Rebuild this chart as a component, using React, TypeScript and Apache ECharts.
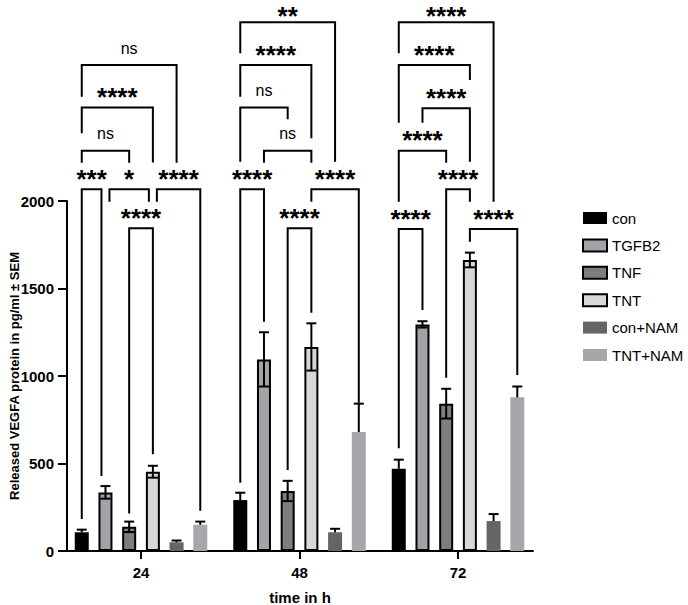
import React, { useEffect, useRef } from "react";
import * as echarts from "echarts";

// ---------- data ----------
const timePoints = ["24", "48", "72"];
const seriesNames = ["con", "TGFB2", "TNF", "TNT", "con+NAM", "TNT+NAM"];

const conMean = [107, 291, 470];
const conSem = [15, 42, 52];
const tgfb2Mean = [335, 1095, 1295];
const tgfb2Sem = [36, 155, 18];
const tnfMean = [138, 343, 842];
const tnfSem = [30, 58, 85];
const tntMean = [453, 1166, 1663];
const tntSem = [34, 135, 42];
const conNamMean = [50, 107, 171];
const conNamSem = [10, 20, 40];
const tntNamMean = [150, 680, 878];
const tntNamSem = [18, 162, 62];

const yTicks = [0, 500, 1000, 1500, 2000];

// significance brackets: [timeIndex, barA, barB, label, level, legA bottom, legB bottom, sideA, sideB]
const brackets: [number, number, number, string, number, number, number, number, number][] = [
  [0, 0, 1, "***", 2067, 183, 429, 0, -1],
  [0, 1, 3, "*", 2067, 1996, 1996, 1, -1],
  [0, 3, 5, "****", 2067, 1996, 230, 1, 0],
  [0, 2, 3, "****", 1844, 215, 553, 0, 0],
  [0, 0, 2, "ns", 2287, 2219, 2219, 0, 0],
  [0, 0, 3, "****", 2535, 2387, 2220, 0, 0],
  [0, 0, 4, "ns", 2777, 2596, 2219, 0, 0],

  [1, 0, 1, "****", 2067, 390, 1310, 0, 0],
  [1, 3, 5, "****", 2067, 1996, 847, 0, 0],
  [1, 2, 3, "****", 1844, 463, 1362, 0, 0],
  [1, 1, 3, "ns", 2287, 2219, 2219, 0, 0],
  [1, 0, 2, "ns", 2535, 2225, 2467, 0, 0],
  [1, 0, 3, "****", 2777, 2596, 2358, 0, 0],
  [1, 0, 4, "**", 3021, 2844, 2225, 0, 0],

  [2, 0, 1, "****", 1840, 587, 1377, 0, 0],
  [2, 3, 5, "****", 1840, 1767, 1006, 0, 0],
  [2, 2, 3, "****", 2067, 990, 1996, 0, 0],
  [2, 0, 2, "****", 2287, 1996, 2219, 0, 0],
  [2, 1, 3, "****", 2530, 2447, 2225, 0, 0],
  [2, 0, 3, "****", 2777, 2447, 2691, 0, 0],
  [2, 0, 4, "****", 3021, 2844, 1996, 0, 0],
];

// ---------- styling ----------
const FONT = "'Liberation Sans', Arial, Helvetica, sans-serif";
const BAR_W = 14;
const BAR_GAP = 0.693;
const SPACING = BAR_W * (1 + BAR_GAP);
const LEG_NUDGE = 4;
const STAR_SIZE = 26;

const means = [conMean, tgfb2Mean, tnfMean, tntMean, conNamMean, tntNamMean];
const sems = [conSem, tgfb2Sem, tnfSem, tntSem, conNamSem, tntNamSem];
const fills = ["#000000", "#a2a2a7", "#7e7e7e", "#d7d7d7", "#656565", "#a6a6ab"];
const bordered = [false, true, true, true, false, false];

export default function App() {
  const ref = useRef<HTMLDivElement>(null);

  useEffect(() => {
    if (!ref.current) return;
    const chart = echarts.init(ref.current, undefined, { renderer: "svg" });

    const barSeries = seriesNames.map((name, k) => ({
      name,
      type: "bar",
      barWidth: BAR_W,
      barGap: `${BAR_GAP * 100}%`,
      data: means[k].map((v, i) => [i, v]),
      itemStyle: {
        color: fills[k],
        borderColor: "#000",
        borderWidth: bordered[k] ? 2 : 0,
      },
      z: 2,
    }));

    const errData: number[][] = [];
    means.forEach((arr, k) =>
      arr.forEach((v, i) => errData.push([i, v, k, sems[k][i], bordered[k] ? 1 : 0]))
    );

    const errSeries = {
      type: "custom",
      clip: false,
      z: 5,
      encode: { x: 0, y: 1 },
      data: errData,
      silent: true,
      renderItem: (params: any, api: any) => {
        const xi = api.value(0);
        const m = api.value(1);
        const k = api.value(2);
        const s = api.value(3);
        const both = api.value(4);
        const base = api.coord([xi, m]);
        const x = base[0] + (k - 2.5) * SPACING;
        const yTop = api.coord([xi, m + s])[1];
        const yBot = both ? api.coord([xi, m - s])[1] : base[1];
        const st = { stroke: "#000", lineWidth: 2 };
        const children: any[] = [
          { type: "line", shape: { x1: x, y1: yTop, x2: x, y2: yBot }, style: st },
          { type: "line", shape: { x1: x - 5, y1: yTop, x2: x + 5, y2: yTop }, style: st },
        ];
        if (both) {
          children.push({ type: "line", shape: { x1: x - 5, y1: yBot, x2: x + 5, y2: yBot }, style: st });
        }
        return { type: "group", children };
      },
    };

    const bracketSeries = {
      type: "custom",
      clip: false,
      z: 6,
      encode: { x: 0, y: 1 },
      silent: true,
      data: brackets.map((b) => [b[0], b[4]]),
      renderItem: (params: any, api: any) => {
        const b = brackets[params.dataIndex];
        const [g, a, bb, label, level, botA, botB, sA, sB] = b;
        const c = api.coord([g, level]);
        const xa = c[0] + (a - 2.5) * SPACING + sA * LEG_NUDGE;
        const xb = c[0] + (bb - 2.5) * SPACING + sB * LEG_NUDGE;
        const yl = c[1];
        const ya = api.coord([g, botA])[1];
        const yb = api.coord([g, botB])[1];
        const isNs = label === "ns";
        const ty = isNs ? yl - 17 : Math.max(yl - 10.5, 15.5);
        return {
          type: "group",
          children: [
            {
              type: "polyline",
              shape: { points: [[xa, ya], [xa, yl], [xb, yl], [xb, yb]] },
              style: { stroke: "#000", lineWidth: 2, fill: "none", lineJoin: "miter" },
            },
            {
              type: "text",
              style: {
                text: label,
                x: (xa + xb) / 2,
                y: ty,
                align: "center",
                verticalAlign: "middle",
                fill: "#000",
                fontFamily: FONT,
                fontSize: isNs ? 16 : STAR_SIZE,
                fontWeight: isNs ? "normal" : "bold",
              },
            },
          ],
        };
      },
    };

    chart.setOption({
      animation: false,
      backgroundColor: "#ffffff",
      textStyle: { fontFamily: FONT },
      grid: { left: 67, right: 155, top: 201, bottom: 54, outerBoundsMode: "none", containLabel: false },
      legend: {
        orient: "vertical",
        left: 577,
        top: 205,
        itemWidth: 24,
        itemHeight: 12,
        itemGap: 11.4,
        icon: "rect",
        data: seriesNames,
        textStyle: { fontSize: 15, color: "#000", fontFamily: FONT, lineHeight: 16 },
        selectedMode: false,
      },
      xAxis: {
        type: "value",
        min: -0.467,
        max: 2.473,
        name: "time in h",
        nameLocation: "middle",
        nameGap: 39,
        nameMoveOverlap: false,
        nameTextStyle: { fontSize: 15, fontWeight: "bold", color: "#000", fontFamily: FONT },
        axisLine: { show: true, onZero: false, lineStyle: { color: "#000", width: 2 } },
        axisTick: { show: true, length: 8, lineStyle: { color: "#000", width: 2 }, customValues: [0, 1, 2] },
        axisLabel: {
          customValues: [0, 1, 2],
          formatter: (v: number) => timePoints[Math.round(v)] ?? "",
          fontSize: 15,
          fontWeight: "bold",
          color: "#000",
          margin: 14,
          fontFamily: FONT,
        },
        splitLine: { show: false },
      },
      yAxis: {
        type: "value",
        min: yTicks[0],
        max: yTicks[yTicks.length - 1],
        interval: 500,
        name: "Released VEGFA protein in pg/ml ± SEM",
        nameLocation: "middle",
        nameGap: 46,
        nameMoveOverlap: false,
        nameTextStyle: { fontSize: 13, fontWeight: "bold", color: "#000", fontFamily: FONT },
        axisLine: { show: true, onZero: false, lineStyle: { color: "#000", width: 2 } },
        axisTick: { show: true, length: 9, lineStyle: { color: "#000", width: 2 } },
        axisLabel: {
          fontSize: 15,
          fontWeight: "bold",
          color: "#000",
          margin: 13,
          fontFamily: FONT,
          formatter: (v: number) => String(v),
        },
        splitLine: { show: false },
      },
      series: [...barSeries, errSeries, bracketSeries],
    });

    return () => chart.dispose();
  }, []);

  return (
    <div
      ref={ref}
      style={{ position: "fixed", left: 0, top: 0, width: 688, height: 605, background: "#fff" }}
    />
  );
}
